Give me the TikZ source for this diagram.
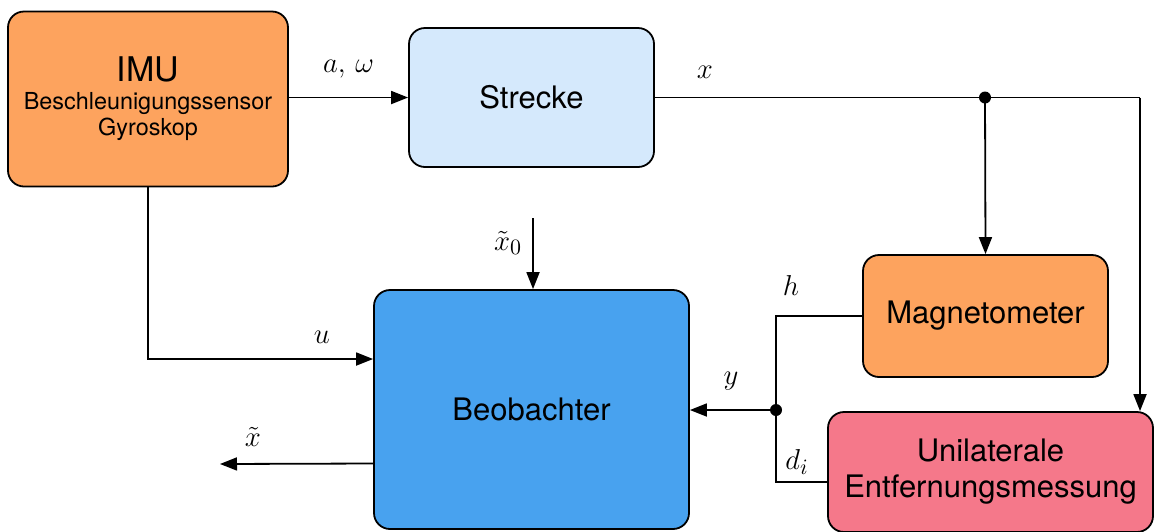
\documentclass[tikz,border=0pt]{standalone}
\usepackage{amsmath,amssymb}
\usepackage{fontspec}
\setmainfont{TeX Gyre Heros}
\usepackage{tikz}
\usetikzlibrary{arrows.meta,calc}

\definecolor{imuorange}{HTML}{FDA35E}
\definecolor{streckeblue}{HTML}{D5E9FC}
\definecolor{beobblue}{HTML}{48A2EF}
\definecolor{uemred}{HTML}{F5788A}

\tikzset{
    block/.style={draw, line width=0.9pt, rounded corners=8pt, align=center, font=\fontsize{15.5}{18}\selectfont},
    sig/.style={line width=0.9pt, -{Triangle[length=8.5pt,width=6.5pt]}},
    wire/.style={line width=0.9pt},
    lbl/.style={font=\fontsize{15}{17}\selectfont}
}

\begin{document}
\begin{tikzpicture}[x=0.5pt,y=-0.5pt]
    \useasboundingbox (0,0) rectangle (1155,531);

    % Bloecke
    \node[block, fill=imuorange, minimum width=140pt, minimum height=87.5pt] (imu) at (148,99)
        {{\fontsize{17}{20}\selectfont IMU}\\[-4pt]{\fontsize{11.7}{13}\selectfont Beschleunigungssensor}\\[-5pt]{\fontsize{11.7}{13}\selectfont Gyroskop}};
    \node[block, fill=streckeblue, minimum width=122.5pt, minimum height=69.5pt] (strecke) at (531.5,97.5) {Strecke};
    \node[block, fill=beobblue, minimum width=157.5pt, minimum height=119.5pt] (beob) at (531.5,409.5) {Beobachter};
    \node[block, fill=imuorange, minimum width=122.5pt, minimum height=61pt] (mag) at (985.5,316) {Magnetometer};
    \node[block, fill=uemred, minimum width=162.5pt, minimum height=60pt] (uem) at (990.5,472) {Unilaterale\\Entfernungsmessung};

    % Hilfspunkte
    \coordinate (xsplit) at (985,97.5);
    \coordinate (xcorner) at (1140,97.5);
    \coordinate (ysplit) at (776,410);
    \coordinate (x0) at (533,218);
    \coordinate (xout) at (220,464);

    % Signale
    \draw[sig] (imu.east |- strecke.west) -- (strecke.west) node[lbl, midway, above=6pt] {$a,\,\omega$};
    \draw[wire] (strecke.east) -- (xcorner);
    \draw[sig] (xcorner) -- (xcorner |- uem.north);
    \draw[sig] (xsplit) -- (mag.north);
    \fill (xsplit) circle (3pt);
    \node[lbl] (xlbl) at (705,72) {$x$};

    \draw[sig] (imu.south) |- ([yshift=25.25pt]beob.west);
    \node[lbl] (ulbl) at (322,337) {$u$};

    \draw[sig] (x0) -- (x0 |- beob.north);
    \node[lbl] (x0lbl) at (508,243) {$\tilde{x}_0$};

    \draw[wire] (mag.west) -| (ysplit);
    \draw[wire] ([yshift=-5pt]uem.west) -| (ysplit);
    \draw[sig] (ysplit) -- (beob.east |- ysplit);
    \fill (ysplit) circle (3pt);
    \node[lbl] (hlbl) at (791,285) {$h$};
    \node[lbl] (ylbl) at (731,381) {$y$};
    \node[lbl] (dlbl) at (797,462) {$d_i$};

    \draw[sig] ([yshift=-27pt]beob.west) -- (xout);
    \node[lbl] (xtlbl) at (253,437) {$\tilde{x}$};
\end{tikzpicture}
\end{document}
